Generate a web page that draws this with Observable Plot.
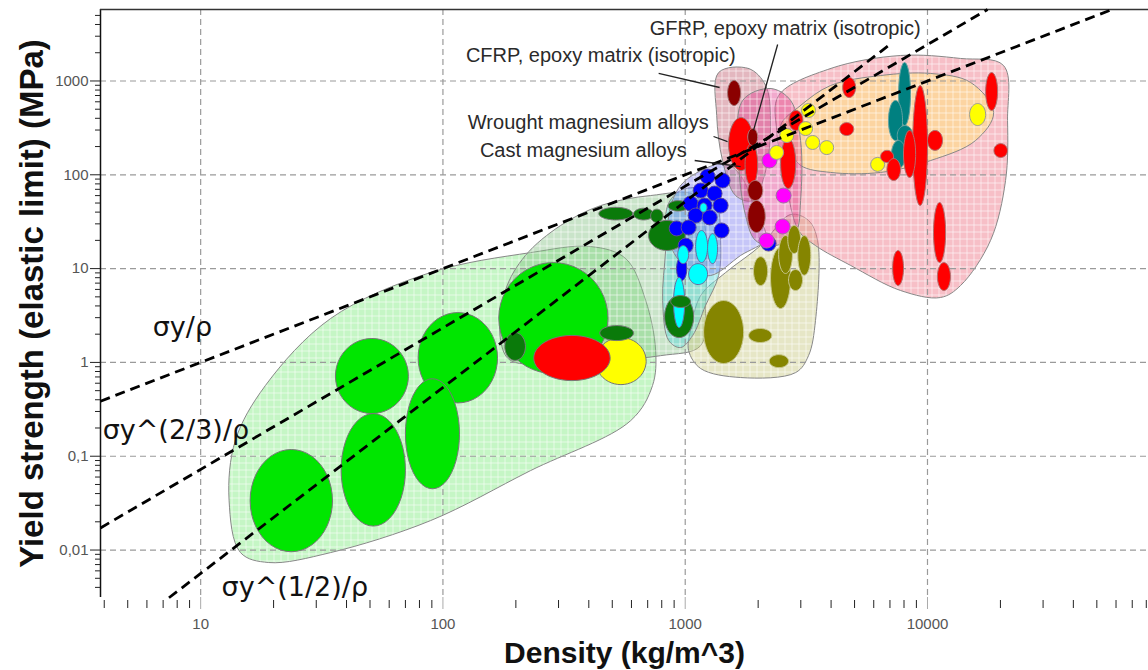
<!DOCTYPE html>
<html>
<head>
<meta charset="utf-8">
<script src="https://cdn.jsdelivr.net/npm/d3@7"></script>
<script src="https://cdn.jsdelivr.net/npm/@observablehq/plot@0.6"></script>
<style>body{margin:0;background:#fff}svg{display:block}</style>
</head>
<body>
<div id="chart"></div>
<script>
// ---------- axes ----------
const xDomain = [3.86, 81700];
const yDomain = [0.00312, 5780];
const xDecades = [10, 100, 1000, 10000];
const xTickLabels = ["10", "100", "1000", "10000"];
const yDecades = [0.01, 0.1, 1, 10, 100, 1000];
const yTickLabels = ["0,01", "0,1", "1", "10", "100", "1000"];
const xTitle = "Density (kg/m^3)";
const yTitle = "Yield strength (elastic limit) (MPa)";

// ---------- envelopes: outline vertices [density, strength] ----------
const foamEnvelope = [[13.1,0.034],[13.9,0.147],[18.5,0.567],[34.4,2.94],[88.9,9.08],[230,14.8],[407,17.2],[568,12.8],[687,4.57],[755,1.34],[733,0.567],[596,0.24],[230,0.0703],[88.9,0.0206],[34.4,0.0094],[19.1,0.00736],[14.6,0.0094]];
const naturalEnvelope = [[173,1.71],[181,5.84],[219,13.8],[306,28.8],[448,47],[720,60.1],[1104,60.1],[1213,25.5],[1213,4.57],[1158,1.51],[791,1.18],[306,1.0],[190,1.05]];
const oliveEnvelope = [[1052,2.19],[1158,5.16],[1468,9.08],[2047,17.6],[2723,37.7],[3228,32.6],[3518,19.9],[3450,2.8],[3228,1.18],[2858,0.78],[1693,0.69],[1158,0.861],[1033,1.34]];
const polymerEnvelope = [[830,15.6],[846,47],[957,68],[1158,71.5],[1336,53.2],[1400,19.9],[1374,8.44],[1213,4.04],[1074,1.94],[957,1.44],[855,1.71],[807,4.57]];
const lavenderEnvelope = [[855,36.8],[957,76.9],[1213,117],[1468,132],[1693,98.2],[1953,41.6],[2148,20.9],[1693,13.8],[1274,8.44],[1052,9.54],[888,15.6]];
const metalEnvelope = [[2430,700],[3981,1358],[7743,1870],[13693,1738],[20600,1462],[21400,379],[21000,86.9],[18200,19.9],[13693,6.6],[11323,4.92],[7743,5.84],[4820,10.8],[3450,17.6],[2938,25.5],[2594,86.9],[2384,297]];
const orangeEnvelope = [[2476,335],[2994,548],[3981,895],[6403,1143],[10310,1202],[15070,964],[18750,461],[15790,232],[10310,142],[6403,106],[3981,106],[2994,126],[2650,205]];
const compositeEnvelope = [[1374,1231],[1828,1358],[2148,895],[2250,379],[2148,111],[1897,53.2],[1614,60.1],[1426,142],[1349,429]];
const magnesiumEnvelope = [[1726,620],[2250,832],[2723,620],[2994,232],[2994,53.2],[2858,24.3],[2361,17.6],[1953,19.9],[1775,36.8],[1660,142]];

// ---------- bubbles: [density lo, density hi, strength lo, strength hi] ----------
const foamBubbles = [[16,35,0.0096,0.118],[38,70,0.018,0.285],[36,72,0.285,1.8],[79,168,0.37,3.4],[70,117,0.045,0.67],[170,480,0.76,11.6]];
const foamYellow = [[427,690,0.58,1.84]];
const foamRed = [[237,490,0.64,1.94]];
const naturalBubbles = [[444,612,1.71,2.47],[180,219,1.05,2.08],[440,607,33,45],[612,741,33,44],[720,810,31,43],[850,1030,41,53],[706,1000,15.6,32.6],[822,1084,1.84,5.16]];
const naturalCap = [[871,1052,3.85,5.16]];
const polymerBlueTall = [[921,1015,7.46,13.4]];
const polymerCyan = [[931,1033,11.3,17.6],[1104,1237,11.6,25.5],[1237,1360,11.3,23.6],[1033,1237,6.76,11.3],[1150,1230,40,50]];
const polymerCyanTall = [[895,995,2.35,8.04]];
const oliveBubbles = [[1191,1742,0.973,4.57],[1828,2277,1.63,2.3],[2223,2671,0.88,1.21],[1914,2189,6.6,13.4],[2250,2723,3.75,16.8],[2430,2770,8.87,22.5],[2650,2994,14.5,28.8],[2915,3300,8.5,22.5],[2670,3050,5.84,9.77]];
const compositeDarkRed = [[1496,1693,548,1012]];
const magnesiumRed = [[1510,1914,111,408],[1766,1991,76.9,215],[2476,2858,71.4,244],[2680,3060,297,485]];
const magnesiumDarkRed = [[1811,1991,205,311],[1811,2090,53.2,86.9],[1811,2140,24.3,53.2]];
const metalTeal = [[7600,8510,335,1574],[6900,7890,232,620],[7500,8690,205,335],[7100,8120,117,232]];
const metalRed = [[4467,5051,667,1089],[4340,4960,262,360],[8690,10000,47,895],[7962,8935,93.5,297],[10000,11540,182,297],[17380,19470,485,1231],[18800,21380,153,215],[6403,7245,135,182],[6800,7743,86.9,149],[10590,11880,11.6,50.7],[10990,12440,5.84,11.6],[7180,7962,6.6,15.6]];
const ceramicYellowLarge = [[14920,17380,335,575]];

// small round markers: [density, strength]
const polymerBlue = [[1237,95.9],[1426,86.9],[1158,68],[1322,63.1],[1052,49.4],[1202,47],[1400,47],[1104,36.8],[1262,35.1],[922,26.8],[1033,27.4],[1413,25.5],[1004,17.6],[2208,18.5]];
const magnesiumMagenta = [[2228,142],[2547,60.1],[2523,28.1],[2168,19.9]];
const ceramicYellow = [[2384,173],[2624,262],[3228,485],[3140,311],[3357,221],[3836,195],[6226,129]];

// ---------- guide lines and labels ----------
const guideLines = [
  {name: "σy/ρ", points: [[3.86,0.386],[57800,5780]]},
  {name: "σy^(2/3)/ρ", points: [[3.86,0.0172],[17700,5780]]},
  {name: "σy^(1/2)/ρ", points: [[7.4,0.0031],[7050,2485]]}
];
const guideLabels = [
  {text: "σy/ρ", rho: 6.34, sigma: 2.35},
  {text: "σy^(2/3)/ρ", rho: 3.94, sigma: 0.188},
  {text: "σy^(1/2)/ρ", rho: 12.2, sigma: 0.004}
];
const annotations = [
  {text: "GFRP, epoxy matrix (isotropic)", rho: 9363, sigma: 3626, from: [2407,2449], to: [1914,297]},
  {text: "CFRP, epoxy matrix (isotropic)", rho: 1614, sigma: 1870, from: [777,1202], to: [1387,852]},
  {text: "Wrought magnesium alloys", rho: 1250, sigma: 361, from: [1309,256], to: [1496,226]},
  {text: "Cast magnesium alloys", rho: 1014, sigma: 182, from: [1094,142], to: [1693,122]}
];

// ---------- styles ----------
const envStyle = {
  foam: {color: "#9ef09e", opacity: 0.6},
  natural: {color: "#7fbf7f", opacity: 0.42},
  olive: {color: "#c8c880", opacity: 0.45},
  polymer: {color: "#5fd8d8", opacity: 0.5},
  lavender: {color: "#8080f0", opacity: 0.45},
  metal: {color: "#f08090", opacity: 0.5},
  orange: {color: "#fdd89a", opacity: 0.85},
  composite: {color: "#c87080", opacity: 0.5},
  magnesium: {color: "#e04090", opacity: 0.45}
};
const envOrder = [
  ["foam", foamEnvelope], ["natural", naturalEnvelope], ["olive", oliveEnvelope],
  ["polymer", polymerEnvelope], ["lavender", lavenderEnvelope], ["metal", metalEnvelope],
  ["orange", orangeEnvelope], ["composite", compositeEnvelope], ["magnesium", magnesiumEnvelope]
];

function outline(ranges, n = 48) {
  const pts = [];
  ranges.forEach(([r0, r1, s0, s1], id) => {
    const cx = (Math.log10(r0) + Math.log10(r1)) / 2, rx = (Math.log10(r1) - Math.log10(r0)) / 2;
    const cy = (Math.log10(s0) + Math.log10(s1)) / 2, ry = (Math.log10(s1) - Math.log10(s0)) / 2;
    for (let i = 0; i < n; ++i) {
      const t = 2 * Math.PI * i / n;
      pts.push({id, rho: 10 ** (cx + rx * Math.cos(t)), sigma: 10 ** (cy + ry * Math.sin(t))});
    }
  });
  return pts;
}
const bubbles = (ranges, fill, stroke = "#777") =>
  Plot.line(outline(ranges), {x: "rho", y: "sigma", z: "id", curve: "linear-closed", fill, stroke, strokeWidth: 1});
const discs = (pts, fill, stroke = "#777", r = 7.5) =>
  Plot.dot(pts, {x: d => d[0], y: d => d[1], r, fill, stroke, strokeWidth: 1});

const minor = (decades) => decades.flatMap(d => [2,3,4,5,6,7,8,9].map(k => k * d));
const xMinor = minor([1, 10, 100, 1000, 10000]).filter(v => v > xDomain[0] && v < xDomain[1]);
const yMinor = minor([0.001, 0.01, 0.1, 1, 10, 100, 1000]).filter(v => v > yDomain[0] && v < yDomain[1]);
const xLab = new Map(xDecades.map((d, i) => [d, xTickLabels[i]]));
const yLab = new Map(yDecades.map((d, i) => [d, yTickLabels[i]]));

const envMarks = envOrder.map(([key, pts]) =>
  Plot.line(pts, {x: d => d[0], y: d => d[1], curve: "catmull-rom-closed",
    fill: `url(#hatch-${key})`, fillOpacity: envStyle[key].opacity, stroke: "#888", strokeWidth: 1}));

const svg = Plot.plot({
  width: 1148, height: 670,
  marginLeft: 100, marginRight: 0, marginTop: 9, marginBottom: 73,
  style: {fontFamily: "'Liberation Sans', Arial, sans-serif", background: "#fff"},
  x: {type: "log", domain: xDomain, label: null},
  y: {type: "log", domain: yDomain, label: null},
  marks: [
    ...envMarks,
    Plot.ruleX(xDecades, {stroke: "#9a9a9a", strokeWidth: 1.2, strokeDasharray: "6,4"}),
    Plot.ruleY(yDecades, {stroke: "#9a9a9a", strokeWidth: 1.2, strokeDasharray: "6,4"}),
    bubbles(foamBubbles, "#00e600"),
    bubbles(foamYellow, "#ffff00"),
    bubbles(foamRed, "#ff0000"),
    bubbles(naturalBubbles, "#0a7a0a"),
    discs(polymerBlue, "#0000ff", "#5a4a9a"),
    bubbles(polymerBlueTall, "#0000ff", "#5a4a9a"),
    bubbles(polymerCyan, "#00ffff", "#6a6aa0"),
    bubbles(polymerCyanTall, "#00ffff", "#6a6aa0"),
    bubbles(naturalCap, "#0a7a0a"),
    bubbles(oliveBubbles, "#858500", "#c8c890"),
    bubbles(compositeDarkRed, "#8b0000", "#a07070"),
    bubbles(magnesiumRed, "#ff0000", "#a07070"),
    bubbles(magnesiumDarkRed, "#8b0000", "#b08080"),
    discs(magnesiumMagenta, "#ff00ff", "#a070a0", 7.5),
    discs(ceramicYellow, "#ffff00", "#999", 7),
    bubbles(metalTeal, "#008080", "#60a0a0"),
    bubbles(metalRed, "#ff0000", "#b07070"),
    bubbles(ceramicYellowLarge, "#ffff00", "#999"),
    // frame
    Plot.ruleX([xDomain[0]], {stroke: "#111", strokeWidth: 1.5}),
    Plot.ruleY([yDomain[1]], {stroke: "#333", strokeWidth: 1.5}),
    // axes
    Plot.axisY({ticks: yDecades, tickSize: 10, text: null, stroke: "#222"}),
    Plot.axisY({ticks: yMinor, tickSize: 5, text: null, stroke: "#222"}),
    Plot.axisY({ticks: yDecades, tickSize: 0, tickPadding: 12, tickFormat: d => yLab.get(d), fontSize: 15, fill: "#555", label: null}),
    Plot.axisX({ticks: xDecades, tickSize: 12, text: null, stroke: "#aaa"}),
    Plot.axisX({ticks: xMinor, tickSize: 8, text: null, stroke: "#222", dy: 3}),
    Plot.axisX({ticks: xDecades, tickSize: 0, tickPadding: 21, tickFormat: d => xLab.get(d), fontSize: 15, fill: "#555", label: null}),
    // guide lines
    ...guideLines.map(g => Plot.line(g.points, {x: d => d[0], y: d => d[1], stroke: "#000", strokeWidth: 2.8, strokeDasharray: "10,6", strokeLinecap: "butt"})),
    Plot.text(guideLabels, {x: "rho", y: "sigma", text: "text", textAnchor: "start", fontSize: 27, fontFamily: "'DejaVu Sans', sans-serif", fill: "#111"}),
    // annotations
    Plot.link(annotations, {x1: d => d.from[0], y1: d => d.from[1], x2: d => d.to[0], y2: d => d.to[1], stroke: "#222", strokeWidth: 1.3}),
    Plot.text(annotations, {x: "rho", y: "sigma", text: "text", textAnchor: "end", fontSize: 20, fill: "#2a2a2a"}),
    // titles
    Plot.text([yTitle], {text: d => d, frameAnchor: "left", textAnchor: "middle", lineAnchor: "middle", dx: -68, rotate: -90, fontSize: 33, fontWeight: "bold", fill: "#111"}),
    Plot.text([xTitle], {text: d => d, frameAnchor: "bottom", textAnchor: "middle", lineAnchor: "middle", dy: 56, fontSize: 30, fontWeight: "bold", fill: "#111"})
  ]
});

// hatch patterns for envelope fills
const ns = "http://www.w3.org/2000/svg";
const defs = document.createElementNS(ns, "defs");
for (const [key, st] of Object.entries(envStyle)) {
  const p = document.createElementNS(ns, "pattern");
  p.setAttribute("id", "hatch-" + key);
  p.setAttribute("patternUnits", "userSpaceOnUse");
  p.setAttribute("width", 7); p.setAttribute("height", 7);
  const r = document.createElementNS(ns, "rect");
  r.setAttribute("width", 7); r.setAttribute("height", 7); r.setAttribute("fill", st.color);
  const l = document.createElementNS(ns, "path");
  l.setAttribute("d", "M0,0.5H7M0.5,0V7");
  l.setAttribute("stroke", "#fff"); l.setAttribute("stroke-opacity", 0.55); l.setAttribute("stroke-width", 1);
  p.appendChild(r); p.appendChild(l); defs.appendChild(p);
}
svg.insertBefore(defs, svg.firstChild);
document.getElementById("chart").appendChild(svg);
</script>
</body>
</html>
